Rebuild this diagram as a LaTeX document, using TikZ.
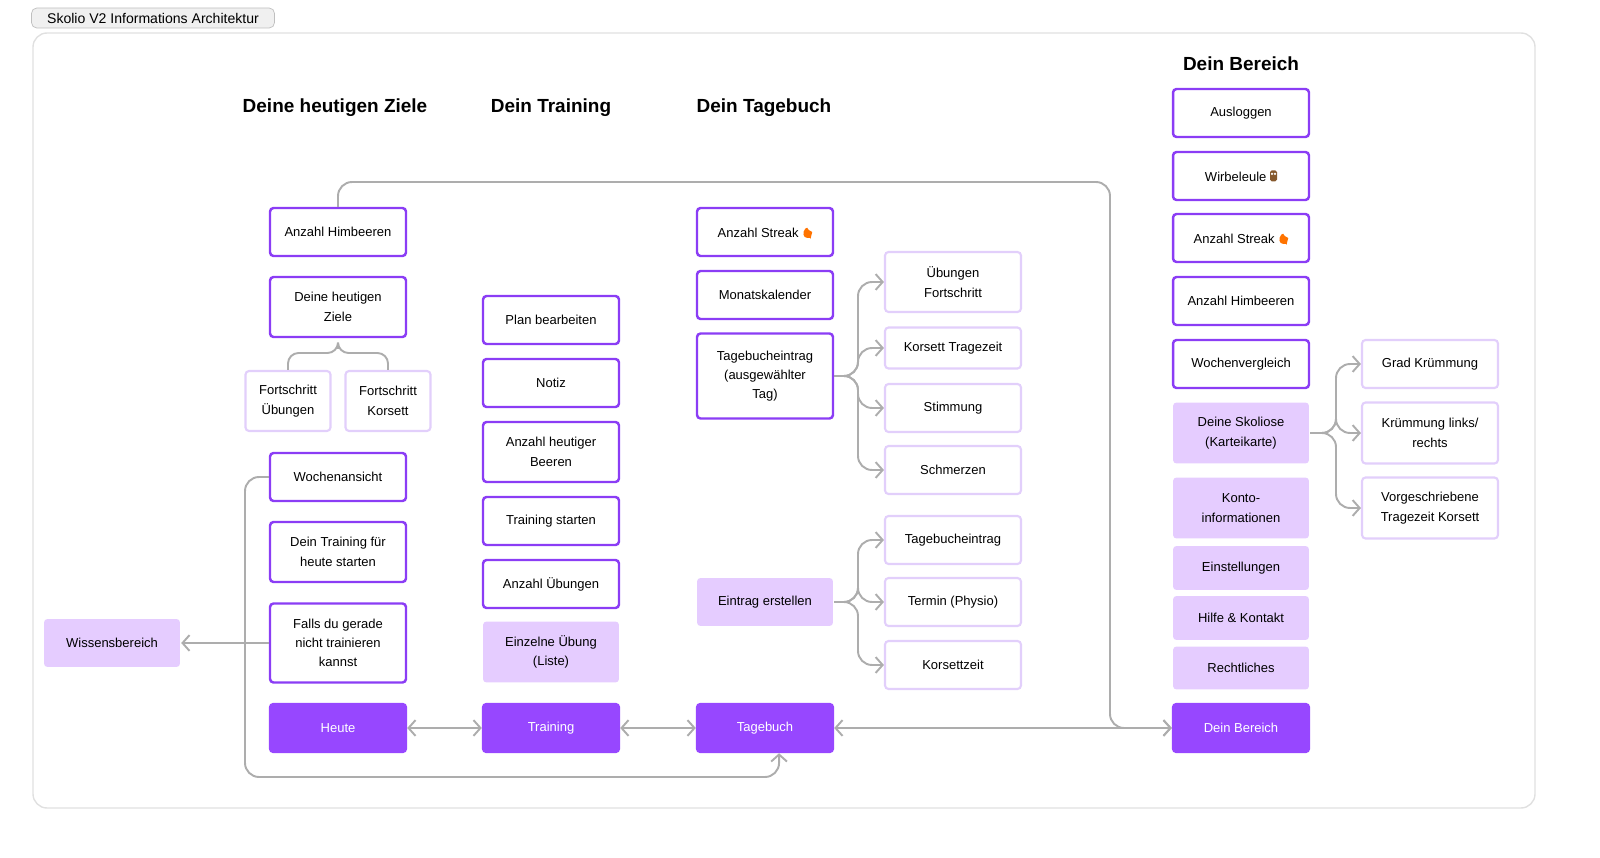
\documentclass[tikz,border=0pt]{standalone}
\usepackage{fontspec}
\setmainfont{Liberation Sans}
\usetikzlibrary{arrows.meta,positioning}
\definecolor{violet}{HTML}{8B3DF5}
\definecolor{violetdark}{HTML}{9747FF}
\definecolor{lilac}{HTML}{E5CCFF}
\definecolor{lilacline}{HTML}{E2CFFB}
\definecolor{wire}{HTML}{ADADAD}
\newcommand{\flame}{\tikz[baseline=0pt,x=1cm,y=1cm]{\fill[orange!90!red] (0,0) .. controls (-0.09,0) and (-0.1,0.12) .. (0.01,0.24) .. controls (0.02,0.16) and (0.1,0.12) .. (0.08,0.05) .. controls (0.07,0) .. (0,0);}}
\newcommand{\owl}{\tikz[baseline=0pt,x=1cm,y=1cm]{\fill[brown!70!black, rounded corners=1pt] (0,0) rectangle (0.14,0.22);\fill[white] (0.04,0.15) circle (0.025) (0.1,0.15) circle (0.025);}}
\tikzset{
  box/.style={draw=violet, line width=1.4pt, rounded corners=2pt, fill=white, minimum width=2.72cm, minimum height=0.96cm, align=center, font=\fontsize{7.4}{11}\selectfont},
  soft/.style={box, draw=lilacline, line width=1.2pt},
  pale/.style={box, draw=none, fill=lilac},
  main/.style={box, draw=violetdark, fill=violetdark, text=white},
  head/.style={font=\fontsize{10.8}{13}\selectfont\bfseries},
  link/.style={draw=wire, line width=1.1pt, rounded corners=8pt},
  tip/.style={-{Straight Barb[length=4pt,width=9pt]}},
  tips/.style={{Straight Barb[length=4pt,width=9pt]}-{Straight Barb[length=4pt,width=9pt]}}
}
\begin{document}
\begin{tikzpicture}[x=0.02cm,y=-0.02cm]
\useasboundingbox (0,0) rectangle (1600,858);
% frame and title
\draw[black!12, line width=0.8pt, rounded corners=8pt] (33,33) rectangle (1535,808);
\node[draw=black!25, fill=black!6, rounded corners=3pt, inner sep=2pt, minimum width=4.86cm, minimum height=0.4cm, font=\fontsize{8}{9}\selectfont] (title) at (153,18) {Skolio V2 Informations Architektur};
% headings
\node[head] (hZiele) at (335,108) {Deine heutigen Ziele};
\node[head] (hTraining) at (551,108) {Dein Training};
\node[head] (hTagebuch) at (764,108) {Dein Tagebuch};
\node[head] (hBereich) at (1241,64) {Dein Bereich};
% Heute
\node[box] (himbeeren) at (338,232) {Anzahl Himbeeren};
\node[box, minimum height=1.2cm] (ziele) at (338,307) {Deine heutigen\\Ziele};
\node[soft, minimum width=1.7cm, minimum height=1.2cm] (fUeb) at (288,401) {Fortschritt\\Übungen};
\node[soft, minimum width=1.7cm, minimum height=1.2cm] (fKor) at (388,401) {Fortschritt\\Korsett};
\node[box] (woche) at (338,477) {Wochenansicht};
\node[box, minimum height=1.2cm] (starten) at (338,552) {Dein Training für\\heute starten};
\node[box, minimum height=1.58cm] (falls) at (338,643) {Falls du gerade\\nicht trainieren\\kannst};
\node[main] (heute) at (338,728) {Heute};
\node[pale] (wissen) at (112,643) {Wissensbereich};
% Training
\node[box] (plan) at (551,320) {Plan bearbeiten};
\node[box] (notiz) at (551,383) {Notiz};
\node[box, minimum height=1.2cm] (beeren) at (551,452) {Anzahl heutiger\\Beeren};
\node[box] (tstart) at (551,521) {Training starten};
\node[box] (anzUeb) at (551,584) {Anzahl Übungen};
\node[pale, minimum height=1.22cm] (einzel) at (551,652) {Einzelne Übung\\(Liste)};
\node[main] (training) at (551,728) {Training};
% Tagebuch
\node[box] (streak) at (765,232) {Anzahl Streak \flame};
\node[box] (monat) at (765,295) {Monatskalender};
\node[box, minimum height=1.7cm] (eintrag) at (765,376) {Tagebucheintrag\\(ausgewählter\\Tag)};
\node[pale] (erstellen) at (765,602) {Eintrag erstellen};
\node[main] (tagebuch) at (765,728) {Tagebuch};
\node[soft, minimum height=1.2cm] (uebF) at (953,282) {Übungen\\Fortschritt};
\node[soft, minimum height=0.82cm] (korT) at (953,348) {Korsett Tragezeit};
\node[soft] (stimmung) at (953,408) {Stimmung};
\node[soft] (schmerz) at (953,470) {Schmerzen};
\node[soft] (tbe) at (953,540) {Tagebucheintrag};
\node[soft] (termin) at (953,602) {Termin (Physio)};
\node[soft] (korZ) at (953,665) {Korsettzeit};
% Bereich
\node[box] (logout) at (1241,113) {Ausloggen};
\node[box] (eule) at (1241,176) {Wirbeleule \owl};
\node[box] (streak2) at (1241,238) {Anzahl Streak \flame};
\node[box] (himb2) at (1241,301) {Anzahl Himbeeren};
\node[box] (wvgl) at (1241,364) {Wochenvergleich};
\node[pale, minimum height=1.22cm] (skoliose) at (1241,433) {Deine Skoliose\\(Karteikarte)};
\node[pale, minimum height=1.22cm] (konto) at (1241,508) {Konto-\\informationen};
\node[pale, minimum height=0.88cm] (einst) at (1241,568) {Einstellungen};
\node[pale, minimum height=0.88cm] (hilfe) at (1241,618) {Hilfe \& Kontakt};
\node[pale, minimum height=0.86cm] (recht) at (1241,668) {Rechtliches};
\node[main] (bereich) at (1241,728) {Dein Bereich};
\node[soft] (grad) at (1430,364) {Grad Krümmung};
\node[soft, minimum height=1.22cm] (links) at (1430,433) {Krümmung links/\\rechts};
\node[soft, minimum height=1.22cm] (vorg) at (1430,508) {Vorgeschriebene\\Tragezeit Korsett};
% connectors
\draw[link, tips] (heute) -- (training);
\draw[link, tips] (training) -- (tagebuch);
\draw[link, tips] (tagebuch) -- (bereich);
\draw[link, tip] (himbeeren.north) |- (1110,182) |- (bereich.west);
\draw[link, tip] (woche.west) -| (245,777) -| ([xshift=8]tagebuch.south);
\draw[link, tip] (falls.west) -- (wissen);
\draw[link, rounded corners=6pt] (fUeb.north) |- (338,353) -- (ziele.south) -- (338,353) -| (fKor.north);
\foreach \t in {uebF,korT,stimmung,schmerz}
  \draw[link, tip] (eintrag.east) -- (858,376) |- (\t.west);
\foreach \t in {tbe,termin,korZ}
  \draw[link, tip] (erstellen.east) -- (858,602) |- (\t.west);
\foreach \t in {grad,links,vorg}
  \draw[link, tip] (skoliose.east) -- (1336,433) |- (\t.west);
\end{tikzpicture}
\end{document}
